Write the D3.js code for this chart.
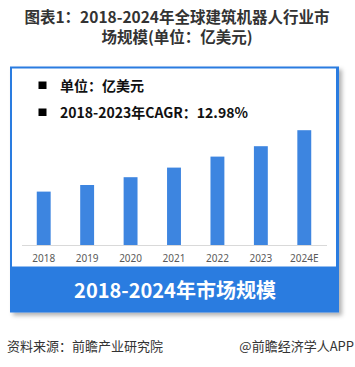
<!DOCTYPE html>
<html>
<head>
<meta charset="utf-8">
<script src="https://cdn.jsdelivr.net/npm/d3@7"></script>
<style>
  body { margin: 0; background: #fff; }
  svg { display: block; font-family: "Noto Sans CJK SC", "Noto Sans", sans-serif; }
</style>
</head>
<body>
<svg id="chart" width="355" height="367"></svg>
<script>
// ===== DATOS =====
const years = ["2018", "2019", "2020", "2021", "2022", "2023", "2024E"];
const valores = [26.7, 30.0, 33.9, 38.7, 44.2, 49.4, 57.4]; // estimado, sin eje visible
const titulo = ["图表1：2018-2024年全球建筑机器人行业市", "场规模(单位：亿美元)"];
const leyenda = ["单位：亿美元", "2018-2023年CAGR：12.98%"];
const banda = "2018-2024年市场规模";
const fuente = "资料来源：前瞻产业研究院";
const marca = "@前瞻经济学人APP";

const azul = "#2b7be0";
const svg = d3.select("#chart");

// sombra del marco
const defs = svg.append("defs");
const f = defs.append("filter").attr("id", "sombra")
  .attr("x", "-10%").attr("y", "-10%").attr("width", "125%").attr("height", "125%");
f.append("feDropShadow").attr("dx", 3).attr("dy", 3).attr("stdDeviation", 2)
  .attr("flood-color", "#000").attr("flood-opacity", 0.3);

// ===== TITULO =====
svg.selectAll(".titulo")
  .data(titulo)
  .enter()
  .append("text")
  .attr("x", 177)
  .attr("y", (d, i) => 23 + i * 20)
  .attr("text-anchor", "middle")
  .attr("font-size", 15.5)
  .attr("font-weight", "bold")
  .attr("fill", "#333")
  .text(d => d);

// ===== MARCO =====
svg.append("rect")
  .attr("x", 10).attr("y", 66.5).attr("width", 329).attr("height", 246)
  .attr("fill", azul).attr("filter", "url(#sombra)");
svg.append("rect")
  .attr("x", 12).attr("y", 68.5).attr("width", 324).attr("height", 198)
  .attr("fill", "#fff");

// ===== LEYENDA =====
const ley = svg.selectAll(".ley")
  .data(leyenda)
  .enter()
  .append("g")
  .attr("transform", (d, i) => `translate(0,${i * 27})`);
ley.append("rect")
  .attr("x", 38.5).attr("y", 81.5).attr("width", 8).attr("height", 7.5)
  .attr("fill", "#000");
ley.append("text")
  .attr("x", 60).attr("y", 91)
  .attr("font-size", 14)
  .attr("font-weight", "bold")
  .attr("fill", "#111")
  .text(d => d);

// ===== BARRAS =====
const x = d3.scaleBand()
  .domain(years)
  .range([22, 326])
  .paddingInner(0.68)
  .paddingOuter(0.34);

const y = d3.scaleLinear()
  .domain([0, 60])
  .range([245, 125]);

svg.append("line")
  .attr("x1", 22).attr("x2", 327)
  .attr("y1", 245.5).attr("y2", 245.5)
  .attr("stroke", "#d9d9d9");

svg.selectAll(".barra")
  .data(valores)
  .enter()
  .append("rect")
  .attr("class", "barra")
  .attr("x", (d, i) => x(years[i]))
  .attr("y", d => y(d))
  .attr("width", x.bandwidth())
  .attr("height", d => y(0) - y(d))
  .attr("fill", "#3d85e0");

const eje = svg.append("g")
  .attr("transform", "translate(0,245)")
  .call(d3.axisBottom(x).tickSize(0).tickPadding(10));
eje.select(".domain").remove();
eje.selectAll("text")
  .attr("font-size", 10)
  .attr("fill", "#595959")
  .attr("font-family", "\"Noto Sans\", sans-serif");

// ===== BANDA =====
svg.append("text")
  .attr("x", 175).attr("y", 298)
  .attr("text-anchor", "middle")
  .attr("font-size", 20)
  .attr("font-weight", "bold")
  .attr("fill", "#fff")
  .text(banda);

// ===== PIE =====
svg.append("text")
  .attr("x", 7).attr("y", 351)
  .attr("font-size", 13)
  .attr("fill", "#333")
  .text(fuente);
svg.append("text")
  .attr("x", 354).attr("y", 351)
  .attr("text-anchor", "end")
  .attr("font-size", 13)
  .attr("fill", "#333")
  .text(marca);
</script>
</body>
</html>
